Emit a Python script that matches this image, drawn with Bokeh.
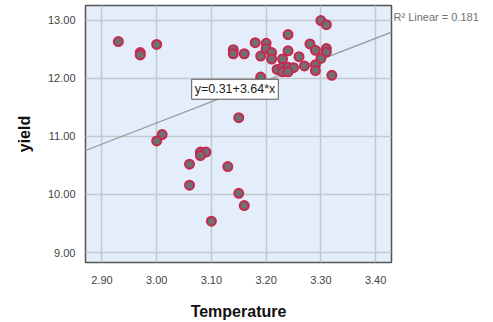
from bokeh.plotting import figure
from bokeh.models import (Label, Slope, FixedTicker, PrintfTickFormatter, ColumnDataSource,
                          Range1d, LinearAxis)
from bokeh.embed import file_html
from bokeh.resources import INLINE

# ---- data ----
temperature = [2.93, 2.97, 2.97, 3.00, 3.14, 3.14, 3.16, 3.18, 3.19, 3.19, 3.15,
               3.30, 3.31, 3.24, 3.20, 3.20, 3.21, 3.21, 3.24, 3.28, 3.29, 3.31,
               3.31, 3.26, 3.23, 3.30, 3.22, 3.23, 3.24, 3.25, 3.23, 3.24, 3.27,
               3.29, 3.29, 3.32, 3.01, 3.00, 3.08, 3.09, 3.08, 3.06, 3.13, 3.06,
               3.15, 3.16, 3.10]
yield_vals = [12.63, 12.44, 12.40, 12.58, 12.49, 12.42, 12.42, 12.61, 12.38, 12.02, 11.32,
              12.99, 12.92, 12.75, 12.60, 12.51, 12.44, 12.33, 12.47, 12.59, 12.48, 12.51,
              12.45, 12.37, 12.33, 12.34, 12.15, 12.19, 12.19, 12.18, 12.11, 12.11, 12.21,
              12.23, 12.13, 12.05, 11.03, 10.92, 10.73, 10.73, 10.67, 10.52, 10.48, 10.16,
              10.02, 9.81, 9.54]
x_ticks = [2.90, 3.00, 3.10, 3.20, 3.30, 3.40]
y_ticks = [9.0, 10.0, 11.0, 12.0, 13.0]
fit_intercept = 0.31
fit_slope = 3.64
r_squared = 0.181

FONT = "Liberation Sans"

p = figure(width=493, height=322, output_backend="svg", toolbar_location=None,
           x_range=Range1d(2.87, 3.429), y_range=Range1d(8.83, 13.25),
           min_border_left=85, min_border_right=102, min_border_top=5, min_border_bottom=55)

p.background_fill_color = "#E4EEFA"
p.border_fill_color = "white"
p.outline_line_color = "#555555"
p.outline_line_width = 1.5

for g in (p.xgrid[0], p.ygrid[0]):
    g.grid_line_color = "#C3C8CE"
    g.grid_line_width = 1.5

xax = p.xaxis[0]
yax = p.yaxis[0]
xax.ticker = FixedTicker(ticks=x_ticks)
yax.ticker = FixedTicker(ticks=y_ticks)
xax.formatter = PrintfTickFormatter(format="%.2f")
yax.formatter = PrintfTickFormatter(format="%.2f")

for ax in (xax, yax):
    ax.axis_line_color = None
    ax.major_tick_line_color = None
    ax.minor_tick_line_color = None
    ax.major_tick_out = 0
    ax.major_tick_in = 0
    ax.minor_tick_out = 0
    ax.major_label_text_font = FONT
    ax.major_label_text_font_size = "11px"
    ax.major_label_text_color = "#444444"
    ax.axis_label_text_font = FONT
    ax.axis_label_text_font_size = "16px"
    ax.axis_label_text_font_style = "bold"
    ax.axis_label_text_color = "#111111"

xax.axis_label = "Temperature"
yax.axis_label = "yield"
xax.major_label_standoff = 13
yax.major_label_standoff = 10
xax.axis_label_standoff = 16
yax.axis_label_standoff = 12

fit = Slope(gradient=fit_slope, y_intercept=fit_intercept, line_color="#9A9A9A",
            line_width=1.3, level="underlay")
p.add_layout(fit)

src = ColumnDataSource(dict(x=temperature, y=yield_vals))
p.scatter("x", "y", source=src, size=9, fill_color="#707070",
          line_color="#C8284F", line_width=2)

eq = Label(x=3.064, y=11.81, text=f"y={fit_intercept}+{fit_slope}*x",
           text_baseline="middle", text_font=FONT, text_font_size="12.5px",
           text_color="#222222", background_fill_color="white",
           border_line_color="#555555", border_line_width=1, padding=3)
p.add_layout(eq)

# R² note placed beside the frame via a label-only right axis
r2_pos = 13.06
r2_axis = LinearAxis(ticker=FixedTicker(ticks=[r2_pos]),
                     major_label_overrides={r2_pos: f"R\u00b2 Linear = {r_squared}"},
                     axis_line_color=None, major_tick_line_color=None,
                     minor_tick_line_color=None, major_tick_out=0, major_tick_in=0,
                     minor_tick_out=0, major_label_standoff=2,
                     major_label_text_font=FONT, major_label_text_font_size="11px",
                     major_label_text_color="#707070")
p.add_layout(r2_axis, "right")

open("out.html", "w").write(file_html(p, INLINE))
